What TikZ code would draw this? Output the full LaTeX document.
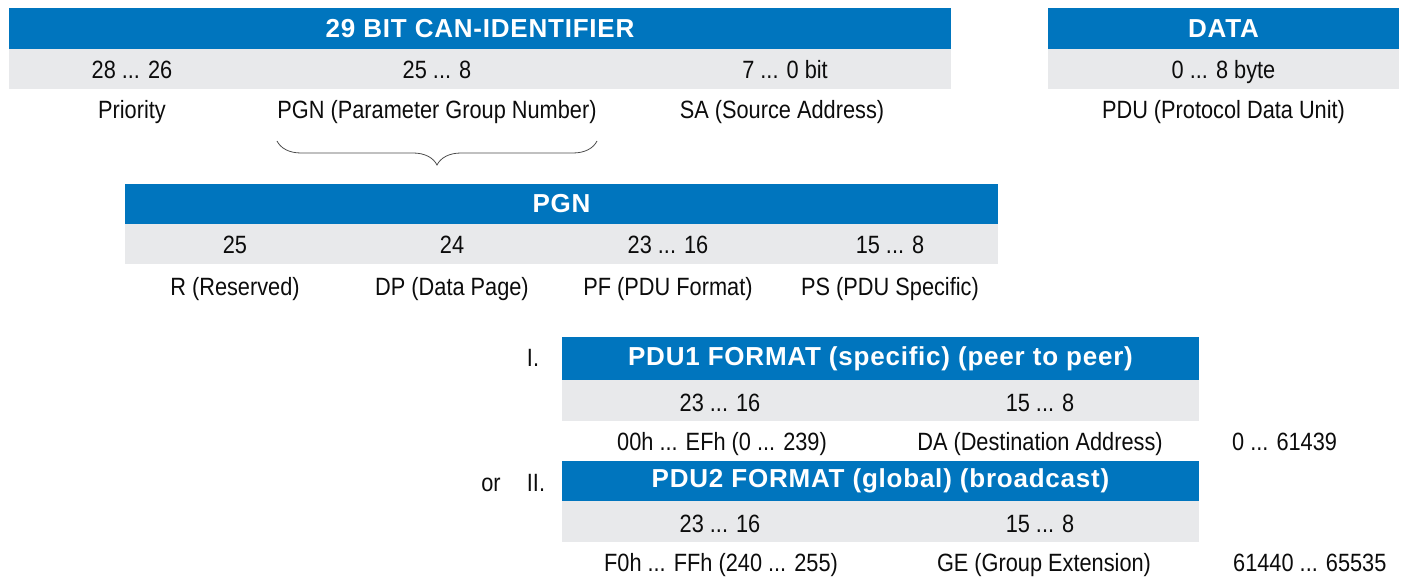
\documentclass[tikz,border=0pt]{standalone}
\usepackage{fontspec}
\usepackage{xcolor}
\usepackage{tikz}
\usetikzlibrary{positioning, calc, decorations.pathreplacing}
\setmainfont{Liberation Sans}[FakeStretch=0.87]
\newfontfamily\headfont{Liberation Sans}[LetterSpace=3]
\definecolor{canblue}{RGB}{0, 117, 190}
\definecolor{bitgray}{RGB}{232, 233, 235}
\definecolor{txtblack}{RGB}{12, 12, 12}

\begin{document}
\begin{tikzpicture}[x=1pt, y=-1pt,
    headbar/.style={fill=canblue, text=white, inner sep=0pt,
        font=\headfont\bfseries\fontsize{26}{30}\selectfont},
    bitrow/.style={fill=bitgray, inner sep=0pt},
    txt/.style={text=txtblack, inner sep=0pt, anchor=base, font=\fontsize{25}{29}\selectfont}]
    \useasboundingbox (0,0) rectangle (1408,577);

    % 29 bit identifier
    \node[headbar, minimum width=942pt, minimum height=41pt] (canid) at (480,28.5) {29 BIT CAN-IDENTIFIER};
    \node[bitrow, minimum width=942pt, minimum height=40pt] (canrow) at (480,69) {};
    \node[txt] (prio) at (132,79) {28 ... 26};
    \node[txt] (pgnbits) at (437,79) {25 ... 8};
    \node[txt] (sabits) at (785,79) {7 ... 0 bit};
    \node[txt] (priolbl) at (132,119) {Priority};
    \node[txt] (pgnlbl) at (437,119) {PGN (Parameter Group Number)};
    \node[txt] (salbl) at (782,119) {SA (Source Address)};

    % Data field
    \node[headbar, minimum width=351pt, minimum height=41pt] (data) at (1223.5,28.5) {DATA};
    \node[bitrow, minimum width=351pt, minimum height=40pt] (datarow) at (1223.5,69) {};
    \node[txt] (databytes) at (1223.5,79) {0 ... 8 byte};
    \node[txt] (pdulbl) at (1223.5,119) {PDU (Protocol Data Unit)};

    % Brace
    \coordinate (brl) at (277,141);
    \coordinate (brr) at (597,141);
    \draw[decorate, decoration={brace, mirror, amplitude=24pt}, draw=black!70, line width=0.8pt] (brl) -- (brr);

    % PGN
    \node[headbar, minimum width=873pt, minimum height=40pt] (pgn) at (561.5,204) {PGN};
    \node[bitrow, minimum width=873pt, minimum height=40pt] (pgnrow) at (561.5,244) {};
    \node[txt] (rbit) at (235,254) {25};
    \node[txt] (dpbit) at (452,254) {24};
    \node[txt] (pfbits) at (668,254) {23 ... 16};
    \node[txt] (psbits) at (890,254) {15 ... 8};
    \node[txt] (rlbl) at (235,296) {R (Reserved)};
    \node[txt] (dplbl) at (452,296) {DP (Data Page)};
    \node[txt] (pflbl) at (668,296) {PF (PDU Format)};
    \node[txt] (pslbl) at (890,296) {PS (PDU Specific)};

    % PDU1
    \node[txt] (one) at (533,366) {I.};
    \node[headbar, minimum width=637pt, minimum height=43pt] (pduone) at (880.5,358.5) {PDU1 FORMAT (specific) (peer to peer)};
    \node[bitrow, minimum width=637pt, minimum height=41pt] (pduonerow) at (880.5,400.5) {};
    \node[txt] (pfone) at (720,411) {23 ... 16};
    \node[txt] (psone) at (1040,411) {15 ... 8};
    \node[txt] (pfonelbl) at (722,450) {00h ... EFh (0 ... 239)};
    \node[txt] (daclbl) at (1040,450) {DA (Destination Address)};
    \node[txt, anchor=base west] (rangeone) at (1232,450) {0 ... 61439};

    % PDU2
    \node[txt] (orlbl) at (491,491) {or};
    \node[txt] (two) at (536,491) {II.};
    \node[headbar, minimum width=637pt, minimum height=40pt] (pdutwo) at (880.5,481) {PDU2 FORMAT (global) (broadcast)};
    \node[bitrow, minimum width=637pt, minimum height=41pt] (pdutworow) at (880.5,521.5) {};
    \node[txt] (pftwo) at (720,532) {23 ... 16};
    \node[txt] (pstwo) at (1040,532) {15 ... 8};
    \node[txt] (pftwolbl) at (721,571) {F0h ... FFh (240 ... 255)};
    \node[txt] (gelbl) at (1044,571) {GE (Group Extension)};
    \node[txt, anchor=base west] (rangetwo) at (1233,571) {61440 ... 65535};
\end{tikzpicture}
\end{document}
